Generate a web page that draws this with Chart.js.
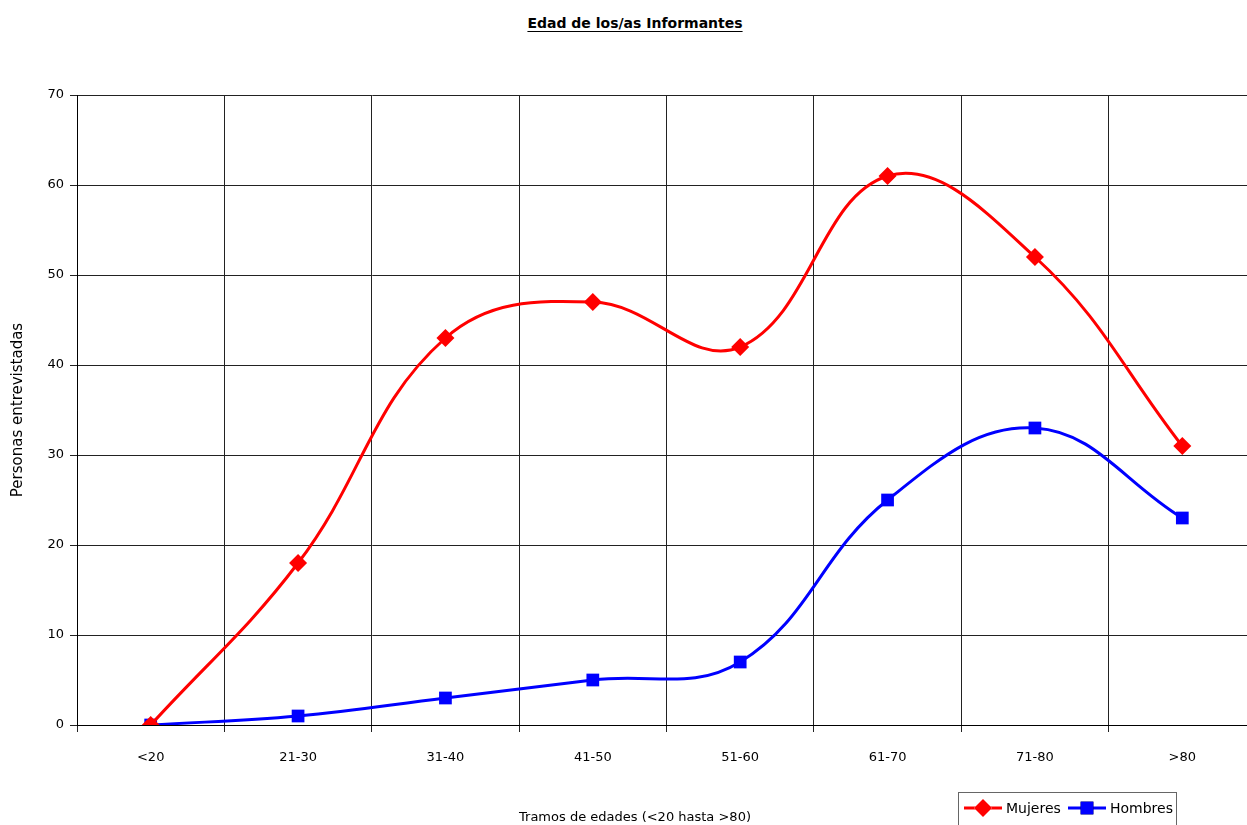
<!DOCTYPE html>
<html lang="es">
<head>
    <meta charset="UTF-8">
    <script src="https://cdn.jsdelivr.net/npm/chart.js@4.4.1/dist/chart.umd.min.js"></script>
    <title>Edad de los/as Informantes</title>
    <style>
        body { margin: 0; background: #fff; overflow: hidden; font-family: "DejaVu Sans", sans-serif; }
        #title { position: absolute; top: 15px; left: 0; width: 1270px; text-align: center; font-weight: bold; font-size: 14px; text-decoration: underline; text-underline-offset: 3px; }
        #xtitle { position: absolute; top: 809px; left: 0; width: 1270px; text-align: center; font-size: 13px; }
        #wrap { position: absolute; left: 0; top: 0; width: 1265px; height: 825px; }
    </style>
</head>
<body>
    <div id="title">Edad de los/as Informantes</div>
    <div id="wrap"><canvas id="chart"></canvas></div>
    <div id="xtitle">Tramos de edades (&lt;20 hasta &gt;80)</div>
    <script>
        // datos
        const categorias = ['<20', '21-30', '31-40', '41-50', '51-60', '61-70', '71-80', '>80'];
        const mujeres = [0, 18, 43, 47, 42, 61, 52, 31];
        const hombres = [0, 1, 3, 5, 7, 25, 33, 23];
        const yTicks = [0, 10, 20, 30, 40, 50, 60, 70];

        const fuente = { family: 'DejaVu Sans', size: 13 };

        // leyenda con marco, abajo a la derecha
        const leyendaMarco = {
            id: 'leyendaMarco',
            afterDraw(chart) {
                const ctx = chart.ctx;
                ctx.save();
                ctx.fillStyle = '#fff';
                ctx.fillRect(958, 792, 218, 40);
                ctx.strokeStyle = '#666';
                ctx.lineWidth = 1;
                ctx.strokeRect(958.5, 792.5, 218, 40);
                const items = [
                    { x: 964, text: 'Mujeres', ds: chart.data.datasets[0] },
                    { x: 1068, text: 'Hombres', ds: chart.data.datasets[1] }
                ];
                ctx.font = '14px "DejaVu Sans"';
                ctx.textBaseline = 'middle';
                items.forEach(it => {
                    ctx.strokeStyle = it.ds.borderColor;
                    ctx.lineWidth = 3;
                    ctx.beginPath();
                    ctx.moveTo(it.x, 808);
                    ctx.lineTo(it.x + 38, 808);
                    ctx.stroke();
                    Chart.helpers.drawPoint(ctx, {
                        pointStyle: it.ds.pointStyle,
                        radius: it.ds.pointRadius,
                        borderWidth: 0,
                        rotation: 0
                    }, it.x + 19, 808);
                    ctx.fillStyle = it.ds.borderColor;
                    ctx.fill();
                    ctx.fillStyle = '#000';
                    ctx.fillText(it.text, it.x + 42, 809);
                });
                ctx.restore();
            }
        };

        new Chart(document.getElementById('chart'), {
            type: 'line',
            data: {
                labels: categorias,
                datasets: [{
                    label: 'Mujeres',
                    data: mujeres,
                    borderColor: '#ff0000',
                    backgroundColor: '#ff0000',
                    borderWidth: 3,
                    pointStyle: 'rectRot',
                    pointRadius: 9,
                    pointBorderWidth: 0,
                    tension: 0.4
                }, {
                    label: 'Hombres',
                    data: hombres,
                    borderColor: '#0000ff',
                    backgroundColor: '#0000ff',
                    borderWidth: 3,
                    pointStyle: 'rect',
                    pointRadius: 9,
                    pointBorderWidth: 0,
                    tension: 0.4
                }]
            },
            options: {
                responsive: true,
                maintainAspectRatio: false,
                animation: false,
                layout: { padding: { top: 95, left: 0, right: 0, bottom: 0 } },
                plugins: {
                    legend: { display: false },
                    tooltip: { enabled: false }
                },
                scales: {
                    x: {
                        offset: true,
                        afterFit(scale) { scale.height = 100; },
                        grid: {
                            offset: true,
                            color: '#222',
                            lineWidth: 1,
                            drawTicks: true,
                            tickLength: 7
                        },
                        border: { color: '#000', width: 1 },
                        ticks: { color: '#000', font: fuente, padding: 18, maxRotation: 0 }
                    },
                    y: {
                        min: 0,
                        max: 70,
                        afterFit(scale) { scale.width = 77; },
                        afterBuildTicks(scale) { scale.ticks = yTicks.map(v => ({ value: v })); },
                        grid: {
                            color: '#222',
                            lineWidth: 1,
                            drawTicks: true,
                            tickLength: 7
                        },
                        border: { color: '#000', width: 1 },
                        ticks: { color: '#000', font: fuente, padding: 6 },
                        title: {
                            display: true,
                            text: 'Personas entrevistadas',
                            color: '#000',
                            font: { family: 'DejaVu Sans', size: 15 },
                            padding: { top: 9, bottom: 4 }
                        }
                    }
                }
            },
            plugins: [leyendaMarco]
        });
    </script>
</body>
</html>
